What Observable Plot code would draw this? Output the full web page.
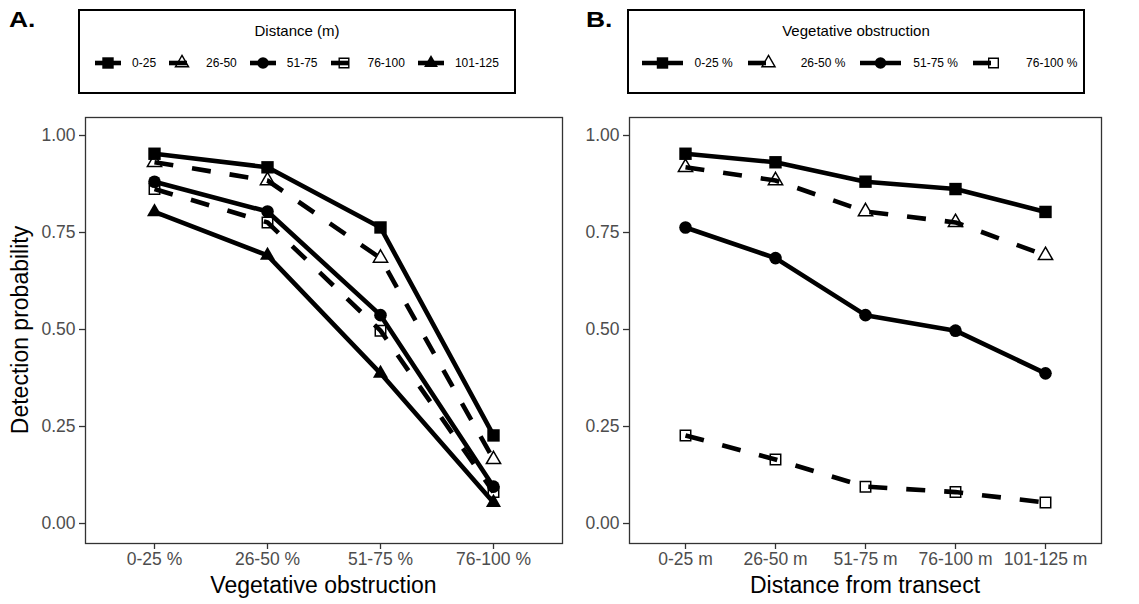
<!DOCTYPE html>
<html><head><meta charset="utf-8">
<script src="https://cdn.jsdelivr.net/npm/d3@7"></script>
<script src="https://cdn.jsdelivr.net/npm/@observablehq/plot@0.6"></script>
<style>
body{margin:0;background:#fff;font-family:"Liberation Sans",Arial,sans-serif;}
#root{position:relative;width:1139px;height:604px;overflow:hidden;background:#fff;}
.abs{position:absolute;}
.tag{font-weight:bold;font-size:22px;line-height:22px;color:#000;transform-origin:0 0;transform:scaleX(1.2);}
.xtitle{font-size:23px;line-height:23px;color:#000;white-space:nowrap;transform:translateX(-50%);}
.ytitle{font-size:23px;line-height:23px;color:#000;white-space:nowrap;transform:translate(-50%,-50%) rotate(-90deg);}
.legbox{box-sizing:border-box;border:2px solid #000;background:#fff;}
.legtitle{position:absolute;left:0;width:100%;text-align:center;font-size:15px;line-height:15px;color:#000;}
.legrow{position:absolute;left:0;width:100%;height:20px;display:flex;align-items:center;justify-content:center;}
.legitem{display:flex;align-items:center;}
.leglab{font-size:12px;line-height:12px;color:#000;white-space:nowrap;}
.panel{position:absolute;top:100px;}
</style></head><body><div id="root"></div>
<script>
// ---------- data ----------
const obstruction = ["0-25 %", "26-50 %", "51-75 %", "76-100 %"];
const distance = ["0-25 m", "26-50 m", "51-75 m", "76-100 m", "101-125 m"];
const distanceBands = ["0-25", "26-50", "51-75", "76-100", "101-125"];
// detection probability for each distance band, across obstruction levels (0-25, 26-50, 51-75, 76-100 %)
const p_0_25   = [0.953, 0.918, 0.763, 0.227];
const p_26_50  = [0.931, 0.884, 0.684, 0.165];
const p_51_75  = [0.881, 0.804, 0.537, 0.095];
const p_76_100 = [0.862, 0.776, 0.497, 0.081];
const p_101_125 = [0.803, 0.691, 0.387, 0.054];
const yTicks = [0, 0.25, 0.5, 0.75, 1];

const P = [p_0_25, p_26_50, p_51_75, p_76_100, p_101_125];

// ---------- styles ----------
const stSquareF = {symbol: "square", filled: true, dashed: false, r: 7};
const stTriO = {symbol: "triangle", filled: false, dashed: true, r: 5.3};
const stCircF = {symbol: "circle", filled: true, dashed: false, r: 6.3};
const stSquareO = {symbol: "square", filled: false, dashed: true, r: 5.9};
const stTriF = {symbol: "triangle", filled: true, dashed: false, r: 5.6};
const stylesA = [stSquareF, stTriO, stCircF, stSquareO, stTriF];
const stylesB = [stSquareF, stTriO, stCircF, stSquareO];

// ---------- tidy tables ----------
const dataA = [];
distanceBands.forEach((s, i) => obstruction.forEach((o, j) => dataA.push({series: s, x: o, y: P[i][j]})));
const dataB = [];
obstruction.forEach((s, j) => distance.forEach((d, i) => dataB.push({series: s, x: d, y: P[i][j]})));

const FONT = '"Liberation Sans",Arial,sans-serif';
const root = document.getElementById("root");

function panel(data, xDomain, series, styles, width, marginLeft, marginRight) {
  const marks = [
    Plot.axisY({ticks: yTicks, tickFormat: d3.format(".2f"), tickSize: 6, tickPadding: 4, fontSize: 17.5,
      fill: "#4d4d4d", stroke: "#333", strokeWidth: 1.3, label: null}),
    Plot.axisX({tickSize: 6, tickPadding: 3, fontSize: 17.5, fill: "#4d4d4d", stroke: "#333", strokeWidth: 1.3, label: null})
  ];
  series.forEach((s, k) => {
    const st = styles[k];
    marks.push(Plot.line(data.filter(d => d.series === s), {
      x: "x", y: "y", stroke: "black", strokeWidth: 4.6,
      strokeDasharray: st.dashed ? "19,19" : undefined,
      strokeLinejoin: "round", strokeLinecap: "butt"
    }));
  });
  series.forEach((s, k) => {
    const st = styles[k];
    marks.push(Plot.dot(data.filter(d => d.series === s), {
      x: "x", y: "y", symbol: st.symbol, r: st.r,
      fill: st.filled ? "black" : "none",
      stroke: st.filled ? "none" : "black",
      strokeWidth: 1.5
    }));
  });
  marks.push(Plot.frame({stroke: "#333", strokeWidth: 1.3}));
  return Plot.plot({
    width, height: 504, marginTop: 17, marginBottom: 61, marginLeft, marginRight,
    x: {type: "point", domain: xDomain, padding: 0.6},
    y: {domain: [-0.0515, 1.0464]},
    style: {fontFamily: FONT, background: "transparent", overflow: "visible"},
    marks
  });
}

const symMap = {square: d3.symbolSquare, triangle: d3.symbolTriangle, circle: d3.symbolCircle};
function keySvg(w, st) {
  const h = 20;
  const svg = d3.create("svg").attr("width", w).attr("height", h).style("display", "block").style("overflow", "visible");
  svg.append("line").attr("x1", 0).attr("x2", w).attr("y1", h / 2).attr("y2", h / 2)
    .attr("stroke", "black").attr("stroke-width", 4.6)
    .attr("stroke-dasharray", st.dashed ? "18,40" : null);
  const rr = st.r * 0.92;
  svg.append("path").attr("transform", `translate(${w / 2},${h / 2})`)
    .attr("d", d3.symbol(symMap[st.symbol], Math.PI * rr * rr)())
    .attr("fill", st.filled ? "black" : "none")
    .attr("stroke", st.filled ? "none" : "black").attr("stroke-width", 1.4);
  return svg.node();
}

function legend(left, top, width, title, labels, styles, keyW, gapLab, gapItem, shift) {
  const box = document.createElement("div");
  box.className = "abs legbox";
  Object.assign(box.style, {left: left + "px", top: top + "px", width: width + "px", height: "85px"});
  const t = document.createElement("div");
  t.className = "legtitle"; t.textContent = title; t.style.top = "11.5px";
  box.appendChild(t);
  const row = document.createElement("div");
  row.className = "legrow"; row.style.top = "42px"; row.style.paddingLeft = shift + "px"; row.style.boxSizing = "border-box";
  labels.forEach((lab, k) => {
    const it = document.createElement("div");
    it.className = "legitem";
    if (k > 0) it.style.marginLeft = gapItem + "px";
    it.appendChild(keySvg(keyW, styles[k]));
    const sp = document.createElement("span");
    sp.className = "leglab"; sp.textContent = lab; sp.style.marginLeft = gapLab + "px";
    it.appendChild(sp);
    row.appendChild(it);
  });
  box.appendChild(row);
  root.appendChild(box);
}

function addText(cls, text, left, top) {
  const d = document.createElement("div");
  d.className = "abs " + cls; d.textContent = text;
  d.style.left = left + "px"; d.style.top = top + "px";
  root.appendChild(d);
  return d;
}

// Panel A
const pa = panel(dataA, obstruction, distanceBands, stylesA, 570, 85, 8);
const wa = document.createElement("div"); wa.className = "panel"; wa.style.left = "0px"; wa.appendChild(pa); root.appendChild(wa);
// Panel B
const pb = panel(dataB, distance, obstruction, stylesB, 569, 59, 38);
const wb = document.createElement("div"); wb.className = "panel"; wb.style.left = "570px"; wb.appendChild(pb); root.appendChild(wb);

// Legends
legend(78, 9, 438, "Distance (m)", distanceBands, stylesA, 26, 11, 13, 0);
legend(627, 9, 458, "Vegetative obstruction", obstruction, stylesB, 41, 12, 15, 7);

// Tags and titles
addText("tag", "A.", 9, 9);
addText("tag", "B.", 586, 9);
addText("xtitle", "Vegetative obstruction", 323.5, 573.5);
addText("xtitle", "Distance from transect", 865, 573.5);
addText("ytitle", "Detection probability", 20, 330);
</script>
</body></html>
